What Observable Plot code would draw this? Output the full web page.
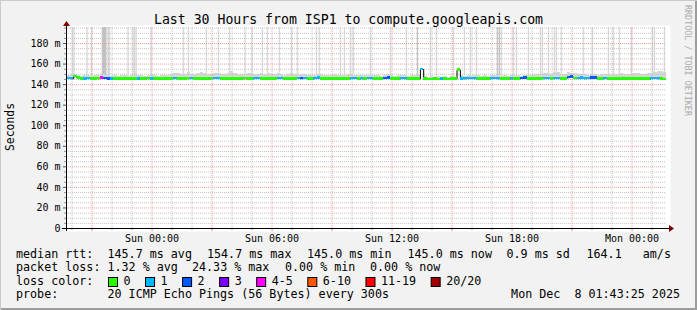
<!DOCTYPE html>
<html>
<head>
<meta charset="utf-8">
<script src="https://cdn.jsdelivr.net/npm/d3@7"></script>
<script src="https://cdn.jsdelivr.net/npm/@observablehq/plot@0.6"></script>
<style>
  html, body { margin: 0; padding: 0; background: #f2f2f2; }
  #wrap { position: relative; width: 697px; height: 310px; background: #f2f2f2; overflow: hidden;
          box-shadow: inset 1px 1px 0 #cbcbcb, inset -2px -2px 0 #9d9d9d; }
  #chart { position: absolute; left: 0; top: 0; }
  #chart text { font-family: "DejaVu Sans Mono", monospace; }
  #overlay { position: absolute; left: 0; top: 0; pointer-events: none; }
</style>
</head>
<body>
<div id="wrap"><div id="chart"></div><svg id="overlay" width="697" height="310"></svg></div>
<script>
// ---------------- data ----------------
const title = "Last 30 Hours from ISP1 to compute.googleapis.com";
const yLabel = "Seconds";
const watermark = "RRDTOOL / TOBI OETIKER";

// window: Sat 19:43:25 -> Mon 01:43:25 (hours counted from Sat 00:00)
const windowStartHour = 19 + 43 / 60 + 25 / 3600;
const windowHours = 30;
const firstStepHour = 19.75;      // first 10-minute step, Sat 19:45
const stepHours = 1 / 6;          // 10 minutes

// median round-trip time per step (ms)
const medianMs = [
  146.0,145.8,147.8,146.3,145.6,145.7,145.9,145.5,145.6,145.8,
  146.2,145.9,145.6,145.4,145.3,145.5,145.4,145.6,145.3,145.5,
  145.7,145.6,145.4,145.5,145.8,145.7,145.3,145.5,145.6,145.4,
  145.5,145.7,145.9,145.6,145.4,145.5,145.8,146.0,145.6,145.5,
  145.7,145.4,145.6,145.8,146.1,145.9,145.5,145.4,145.6,145.7,
  145.5,145.3,145.6,145.8,145.6,145.5,145.9,146.0,145.6,145.4,
  145.5,145.7,145.6,145.9,146.0,145.6,145.5,145.4,145.6,146.1,
  145.8,146.0,145.5,145.4,145.9,146.2,145.6,145.5,145.3,145.6,
  145.7,145.5,145.4,145.6,145.5,145.9,146.1,145.6,145.8,145.5,
  146.0,145.9,145.6,145.5,145.7,146.0,146.2,145.6,145.4,145.5,
  145.9,145.8,145.6,145.5,145.7,145.6,154.7,145.2,145.1,145.0,
  145.2,145.1,145.4,145.2,145.1,145.3,145.2,154.0,145.6,145.8,
  145.9,146.0,145.8,145.5,145.6,145.4,145.5,145.9,146.1,145.8,
  145.6,145.5,145.4,145.8,145.6,145.5,146.0,146.2,145.6,145.5,
  145.4,145.6,145.7,145.9,146.0,145.6,146.1,145.9,145.5,145.6,
  146.8,147.3,145.9,146.0,146.2,145.8,145.9,146.3,146.4,145.6,
  145.5,145.9,145.6,145.4,145.5,145.6,145.3,145.5,145.4,145.6,
  145.5,145.4,145.6,145.5,145.3,145.9,146.0,145.8,145.4,145.0
];

// lost pings (of 20) per step
const lossCount = [
  1,1,0,0,0,1,1,0,0,0, 5,2,2,1,0,0,0,0,0,0, 0,1,0,0,0,1,0,0,0,0,
  0,0,1,0,0,0,0,1,0,0, 0,0,0,0,1,1,0,0,0,0, 0,0,0,0,0,0,1,1,0,0,
  0,0,0,1,1,0,0,0,0,1, 2,1,0,0,1,1,0,0,0,0, 0,0,0,0,0,1,1,0,1,0,
  1,1,0,0,0,2,2,0,0,0, 1,1,0,0,0,0,1,0,0,0, 0,0,1,0,0,0,0,0,1,1,
  1,1,1,0,0,0,0,1,1,1, 0,0,0,1,0,0,2,2,0,0, 0,0,0,1,1,0,1,1,0,0,
  2,2,0,1,1,1,1,2,2,0, 0,1,0,0,0,0,0,0,0,0, 0,0,0,0,0,1,1,1,0,0
];

// upper edge of the regular smoke per step (ms)
const smokeTopMs = [
  149.0,149.5,150.0,148.5,148.0,148.5,149.0,148.0,148.5,149.0,
  149.5,149.0,148.5,148.0,148.5,148.0,148.5,149.0,148.0,148.5,
  149.5,149.0,148.5,148.0,149.0,149.5,148.5,148.0,149.0,148.5,
  149.0,150.0,151.0,150.5,149.5,150.0,151.5,150.0,149.5,150.5,
  152.0,151.0,150.0,149.5,150.5,151.0,150.0,149.5,150.5,152.5,
  151.0,150.0,149.5,150.0,151.0,150.5,149.5,150.0,151.0,150.0,
  150.5,149.5,150.0,151.0,150.0,149.0,149.5,150.5,149.5,149.0,
  150.0,149.5,149.0,148.5,149.0,150.0,149.5,149.0,148.5,149.0,
  149.5,149.0,148.5,149.0,149.5,150.0,149.0,148.5,149.0,148.5,
  149.0,148.5,149.0,148.5,148.0,149.0,149.5,148.5,148.0,148.5,
  149.0,148.5,148.0,148.5,149.0,148.5,156.0,147.5,147.0,147.5,
  147.0,147.5,147.0,147.5,147.0,147.5,147.0,156.0,148.5,148.0,
  148.5,148.0,148.5,149.0,148.0,148.5,148.0,148.5,149.0,148.5,
  148.0,148.5,148.0,148.5,149.0,148.5,148.0,148.5,149.0,148.5,
  149.5,150.0,149.5,150.5,151.0,150.0,152.0,151.5,150.0,149.5,
  152.0,151.0,150.5,149.5,150.0,149.5,149.0,150.0,149.5,149.0,
  149.5,150.0,149.5,149.0,149.5,150.0,150.5,150.0,149.5,150.0,
  150.5,151.0,150.0,149.5,150.5,151.0,152.0,153.0,152.5,151.5
];

// moments (hour) with outlier pings far above the chart, and how many such pings
const spikeHours = [
  20.02,20.10,20.75,20.97,21.52,21.57,21.62,21.67,21.75,21.82,21.87,22.80,23.05,23.12,23.20,23.95,
  25.57,25.82,26.72,27.32,27.87,28.65,29.00,29.52,
  29.77,30.37,30.97,31.27,32.22,32.37,33.42,33.62,33.92,34.07,
  34.92,35.92,36.72,37.27,37.92,38.22,39.07,39.62,
  39.92,40.22,41.27,41.37,41.47,42.07,42.22,42.82,43.42,43.52,43.82,44.12,44.22,44.47,
  45.57,46.02,46.82,47.07,47.37,47.97,49.02,49.12,49.62
];
const spikeCount = [
  1,1,1,1,2,2,2,2,1,1,1,1,1,1,1,1,
  1,1,1,1,1,1,1,1,
  1,1,1,1,1,1,1,1,1,1,
  1,1,1,2,1,1,1,1,
  1,1,2,2,1,1,1,1,1,1,1,1,1,1,
  1,1,1,1,1,1,1,1,1
];
const spikeTopMs = 260;

const yMaxMs = 195.6;
const yTicks = [0, 20, 40, 60, 80, 100, 120, 140, 160, 180];
const yTickLabels = ["0", "20 m", "40 m", "60 m", "80 m", "100 m", "120 m", "140 m", "160 m", "180 m"];
const xTickHours = [24, 30, 36, 42, 48];
const xTickLabels = ["Sun 00:00", "Sun 06:00", "Sun 12:00", "Sun 18:00", "Mon 00:00"];

const lossClasses = ["0", "1", "2", "3", "4-5", "6-10", "11-19", "20/20"];
const lossUpper = [0, 1, 2, 3, 5, 10, 19, 20];
const lossColors = ["#26ff00", "#00b8ff", "#0059ff", "#7e00ff", "#ff00ff", "#ff5500", "#ff0000", "#a00000"];

const medianStats = [145.7, 154.7, 145.0, 145.0];   // avg max min now
const lossStats = [1.32, 24.33, 0.00, 0.00];        // avg max min now
const statNames = ["avg", "max", "min", "now"];
const sdMs = 0.9;
const amPerS = 164.1;
const probeText = "20 ICMP Echo Pings (56 Bytes) every 300s";
const stampText = "Mon Dec  8 01:43:25 2025";

// ---------------- build ----------------
const MONO = "'DejaVu Sans Mono', monospace";
const steps = medianMs.map((m, i) => ({
  t0: firstStepHour + i * stepHours,
  t1: firstStepHour + (i + 1) * stepHours,
  median: m,
  loss: lossCount[i],
  smokeTop: smokeTopMs[i]
}));
const lossColor = n => lossColors[lossUpper.findIndex(u => n <= u)];
const stepAt = h => steps[Math.max(0, Math.min(steps.length - 1, Math.floor((h - firstStepHour) / stepHours)))];
const spikes = spikeHours.map((h, i) => ({h, n: spikeCount[i], base: stepAt(h).smokeTop}));
const spikeShade = n => (n >= 2 ? "#c2c2c2" : "#d9d9d9");

const x0 = windowStartHour, x1 = windowStartHour + windowHours;
const hours = d3.range(Math.ceil(x0), Math.floor(x1) + 1);
const majorHours = hours.filter(h => h % 3 === 0);
const minorHours = hours.filter(h => h % 3 !== 0);
const fives = d3.range(5, yMaxMs, 5);
const majorMs = fives.filter(v => v % 20 === 0);
const minorMs = fives.filter(v => v % 20 !== 0);

const GRID = "#c4c4c4", MGRID = "#eda0a0";

const arrows = (index, scales, values, dim) => {
  const g = d3.create("svg:g");
  const left = dim.marginLeft, bottom = dim.height - dim.marginBottom, top = dim.marginTop, right = dim.width - dim.marginRight;
  g.append("path").attr("fill", "#7f0000")
    .attr("d", `M${left + 0.5},${top - 6} L${left - 3},${top - 1} L${left + 4},${top - 1} Z`);
  g.append("path").attr("fill", "#7f0000")
    .attr("d", `M${right + 8},${bottom + 0.5} L${right + 3},${bottom - 3} L${right + 3},${bottom + 4} Z`);
  return g.node();
};

const plot = Plot.plot({
  width: 697,
  height: 250,
  marginLeft: 66,
  marginRight: 31,
  marginTop: 27,
  marginBottom: 22,
  style: {background: "transparent", fontFamily: MONO, fontSize: "10px", color: "#000", overflow: "visible"},
  x: {domain: [x0, x1], axis: null},
  y: {domain: [0, yMaxMs], axis: null},
  marks: [
    Plot.frame({fill: "white", stroke: "none", insetLeft: -1, insetTop: -2, insetRight: -4, insetBottom: -3}),
    // smoke
    Plot.ruleX(spikes, {x: "h", y1: "base", y2: () => spikeTopMs, stroke: d => spikeShade(d.n), strokeWidth: 1.4, clip: true}),
    Plot.rect(steps, {x1: "t0", x2: "t1", y1: "median", y2: "smokeTop", fill: "#d6d6d6", shapeRendering: "crispEdges", clip: true}),
    // grid
    Plot.ruleY(minorMs, {stroke: GRID, strokeDasharray: "1,1"}),
    Plot.ruleX(minorHours, {stroke: GRID, strokeDasharray: "1,1"}),
    Plot.ruleY(majorMs, {stroke: MGRID, strokeDasharray: "1,1"}),
    Plot.ruleX(majorHours, {stroke: MGRID, strokeDasharray: "1,1"}),
    // median line: black connectors + loss-coloured segments
    Plot.line(steps, {x: "t0", y: "median", curve: "step-after", stroke: "#000", strokeWidth: 1, clip: true}),
    Plot.rect(steps, {x1: "t0", x2: "t1", y1: "median", y2: "median", insetTop: -1.3, insetBottom: -1.3,
                      fill: d => lossColor(d.loss), shapeRendering: "crispEdges", clip: true}),
    // tick marks at the edges
    Plot.axisY({ticks: minorMs, tickSize: 2, tickFormat: () => "", stroke: "#999"}),
    Plot.axisY({ticks: yTicks, tickSize: 3, tickPadding: 3, stroke: "#555", fontFamily: MONO,
                tickFormat: d => yTickLabels[yTicks.indexOf(d)], fontSize: 10}),
    Plot.axisX({ticks: minorHours, tickSize: 2, tickFormat: () => "", stroke: "#999"}),
    Plot.axisX({ticks: majorHours, tickSize: 3, tickFormat: () => "", stroke: "#d88"}),
    Plot.axisX({ticks: xTickHours, tickSize: 0, tickPadding: 6, fontFamily: MONO,
                tickFormat: d => xTickLabels[xTickHours.indexOf(d)], fontSize: 10}),
    // axes
    Plot.ruleY([0], {stroke: "#000", insetLeft: -4, insetRight: -3}),
    Plot.ruleX([x0], {stroke: "#000", insetTop: -2, insetBottom: -3}),
    arrows
  ]
});
document.getElementById("chart").appendChild(plot);

// ---------------- texts around the chart ----------------
const ov = d3.select("#overlay");
const put = (x, y, s, size, extra = {}) => {
  const t = ov.append("text").attr("x", x).attr("y", y).text(s)
    .attr("font-family", MONO).attr("font-size", size).attr("fill", extra.fill || "#000")
    .attr("xml:space", "preserve").style("white-space", "pre");
  if (extra.anchor) t.attr("text-anchor", extra.anchor);
  if (extra.transform) t.attr("transform", extra.transform).attr("x", 0).attr("y", 0);
  return t;
};
put(348.5, 23.5, title, 13.2, {anchor: "middle"});
put(0, 0, yLabel, 11.4, {anchor: "middle", transform: "translate(14,127) rotate(-90)"});
put(0, 0, watermark, 8.4, {fill: "#ababab", transform: "translate(685,5) rotate(90)"});

const LS = 11.7;
const rowY = [257.5, 271, 284.5, 298];
// row 1
put(16, rowY[0], "median rtt:", LS);
const medX = [107.5, 207, 307, 407.5];
medianStats.forEach((v, i) => put(medX[i], rowY[0], `${v.toFixed(1)} ms ${statNames[i]}`, LS));
put(506.5, rowY[0], `${sdMs.toFixed(1)} ms sd`, LS);
put(586.5, rowY[0], `${amPerS.toFixed(1)}   am/s`, LS);
// row 2
put(16, rowY[1], "packet loss:", LS);
const lossX = [107.5, 192, 285, 370];
lossStats.forEach((v, i) => put(lossX[i], rowY[1], `${v.toFixed(2)} % ${statNames[i]}`, LS));
// row 3
put(16, rowY[2], "loss color:", LS);
let bx = 108.5;
lossClasses.forEach((c, i) => {
  ov.append("rect").attr("x", bx).attr("y", 277.5).attr("width", 9).attr("height", 9)
    .attr("fill", lossColors[i]).attr("stroke", "#000").attr("stroke-width", 1);
  const t = put(bx + 15, rowY[2], c, LS);
  bx = bx + 15 + t.node().getComputedTextLength() + 15;
});
// row 4
put(16, rowY[3], "probe:", LS);
put(107.5, rowY[3], probeText, LS);
put(680, rowY[3], stampText, LS, {anchor: "end"});
</script>
</body>
</html>
